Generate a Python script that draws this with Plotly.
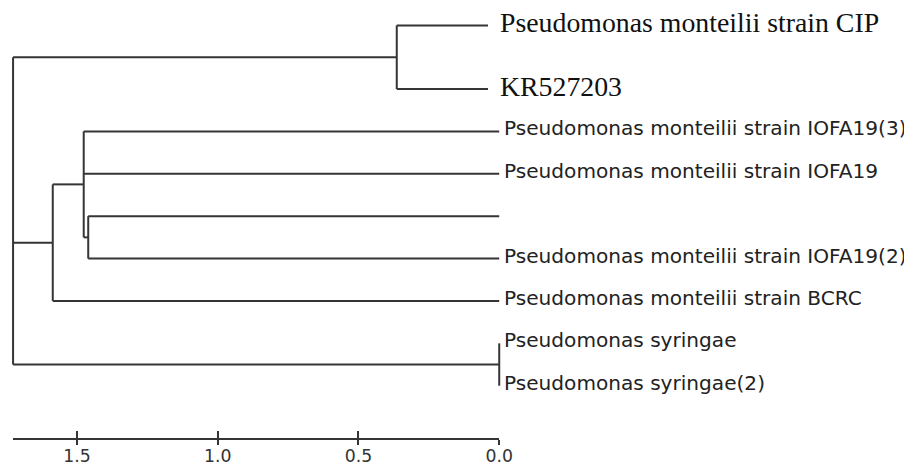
import plotly.graph_objects as go

# ---- data ----
leaf_names = [
    "Pseudomonas monteilii strain CIP",
    "KR527203",
    "Pseudomonas monteilii strain IOFA19(3)",
    "Pseudomonas monteilii strain IOFA19",
    "",
    "Pseudomonas monteilii strain IOFA19(2)",
    "Pseudomonas monteilii strain BCRC",
    "Pseudomonas syringae",
    "Pseudomonas syringae(2)",
]
leaf_rows = [0, 1.5, 2.5, 3.5, 4.5, 5.5, 6.5, 7.5, 8.5]
leaf_tip = [0.04, 0.04, 0, 0, 0, 0, 0, 0, 0]
serif_leaves = [0, 1]

# internal nodes: name -> (height, children)
node_names = ["A", "D", "B", "BC", "S", "root"]
node_heights = [0.364, 1.460, 1.476, 1.586, 0.0, 1.727]
node_children = [
    [0, 1],
    [4, 5],
    [2, 3, "D"],
    ["B", 6],
    [7, 8],
    ["A", "BC", "S"],
]

scale_ticks = [1.5, 1.0, 0.5, 0.0]
scale_labels = ["1.5", "1.0", "0.5", "0.0"]

# ---- build tree geometry from the data ----
node_y = {}
node_h = dict(zip(node_names, node_heights))


def child_pos(c):
    if isinstance(c, str):
        return node_h[c], node_y[c]
    return leaf_tip[c], leaf_rows[c]


xs, ys = [], []
for name, h, kids in zip(node_names, node_heights, node_children):
    pos = [child_pos(c) for c in kids]
    cy = [p[1] for p in pos]
    node_y[name] = (min(cy) + max(cy)) / 2
    xs += [h, h, None]
    ys += [min(cy), max(cy), None]
    for cx, cyy in pos:
        xs += [h, cx, None]
        ys += [cyy, cyy, None]

LINE = "#353535"
fig = go.Figure()
fig.add_trace(go.Scatter(x=xs, y=ys, mode="lines",
                         line=dict(color=LINE, width=2),
                         hoverinfo="skip", showlegend=False))

# invisible traces to carry the scale-bar axes
for ax in ("x2", "x3"):
    fig.add_trace(go.Scatter(x=scale_ticks, y=[None] * len(scale_ticks),
                             xaxis=ax, yaxis="y", mode="markers",
                             marker=dict(opacity=0), showlegend=False,
                             hoverinfo="skip"))

for i, (name, r, t) in enumerate(zip(leaf_names, leaf_rows, leaf_tip)):
    if not name:
        continue
    if i in serif_leaves:
        font = dict(family="Liberation Serif", size=27.8, color="#111")
        shift = 10
    else:
        font = dict(family="DejaVu Sans", size=20.1, color="#222")
        shift = 2.5
    fig.add_annotation(x=t, y=r, text=name, showarrow=False,
                       xanchor="left", yanchor="middle", xshift=shift,
                       yshift=3, font=font)

XR = [1.745, -1.445]
root_h = max(node_heights)
d0 = (XR[0] - root_h) / (XR[0] - XR[1])
d1 = (XR[0] - 0) / (XR[0] - XR[1])
POS = 0.0774

common = dict(range=[root_h, 0], domain=[d0, d1], anchor="free",
              position=POS, tickvals=scale_ticks, ticktext=scale_labels,
              tickwidth=2, tickcolor=LINE, showgrid=False, zeroline=False,
              fixedrange=True)

fig.update_layout(
    width=912, height=467,
    margin=dict(l=0, r=0, t=0, b=0),
    paper_bgcolor="white", plot_bgcolor="rgba(0,0,0,0)",
    xaxis=dict(range=XR, visible=False, fixedrange=True),
    yaxis=dict(range=[10.606, -0.411], visible=False, fixedrange=True),
    xaxis2=dict(**common, showline=True, linecolor=LINE, linewidth=2,
                ticks="inside", ticklen=7, ticklabelstandoff=1,
                tickfont=dict(family="DejaVu Sans", size=17.3, color="#333")),
    xaxis3=dict(**common, showline=False, ticks="outside", ticklen=5,
                showticklabels=False),
)

fig.write_html("out.html")
